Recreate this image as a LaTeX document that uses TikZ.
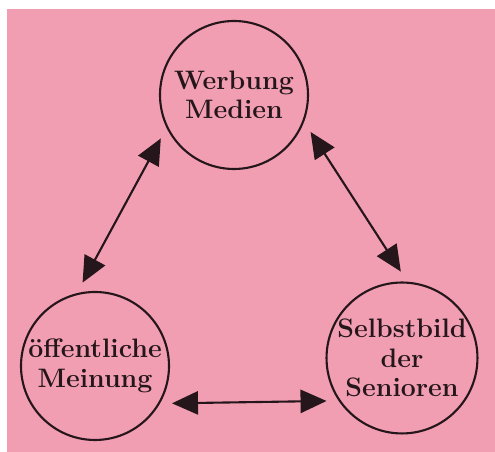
\documentclass[tikz,border=0pt]{standalone}
\usepackage{fontspec}
\usepackage{tikz}
\usetikzlibrary{arrows.meta,positioning}
\definecolor{paper}{RGB}{242,158,178}
\definecolor{ink}{RGB}{36,22,26}
\tikzstyle{topic} = [circle, draw=ink, line width=1.5pt, minimum size=3.7cm,
inner sep=0pt, align=center, text=ink, font=\bfseries\fontsize{19}{21}\selectfont]
\tikzstyle{link} = [draw=ink, line width=1.5pt,
{Triangle[length=0.65cm,width=0.58cm]}-{Triangle[length=0.65cm,width=0.58cm]},
shorten <=0.3cm, shorten >=0.3cm]

\begin{document}
\begin{tikzpicture}
            \fill[white] (0,0) rectangle (12.375,11.3);
            \useasboundingbox (0,0) rectangle (12.375,11.3);
            \fill[paper] (0.175,0) rectangle (12.375,11.075);
            \node[topic] (medien) at (5.85,8.925) {Werbung\\Medien};
            \node[topic] (meinung) at (2.375,2.15) {öffentliche\\Meinung};
            \node[topic] (selbst) at (10.05,2.35) {Selbstbild\\der\\Senioren};
            \draw[link] (medien.206) -- (meinung.104);
            \draw[link] (medien.339) -- (selbst.86);
            \draw[link] (meinung.330) -- (selbst.214);
\end{tikzpicture}
\end{document}
